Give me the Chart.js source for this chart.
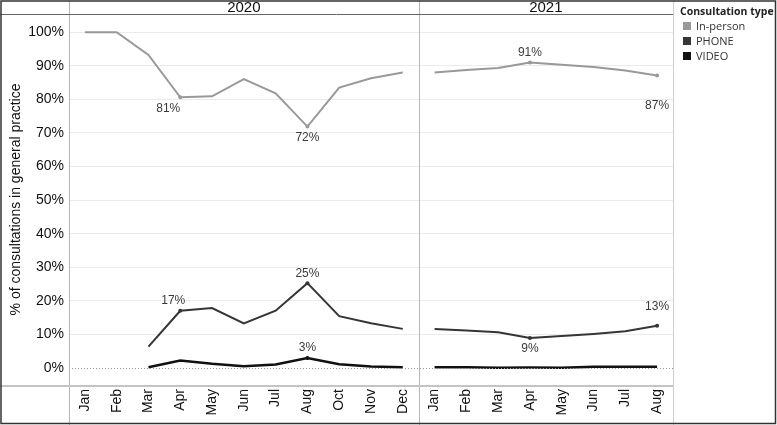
<!DOCTYPE html>
<html>
<head>
<meta charset="utf-8">
<script src="https://cdn.jsdelivr.net/npm/chart.js@4/dist/chart.umd.min.js"></script>
<style>
  html, body { margin: 0; padding: 0; background: #fff; }
  #wrap { position: relative; width: 777px; height: 425px; }
</style>
</head>
<body>
<div id="wrap"><canvas id="consult-chart" width="777" height="425"></canvas></div>
<script>
var years = ["2020", "2021"];
var months2020 = ["Jan", "Feb", "Mar", "Apr", "May", "Jun", "Jul", "Aug", "Oct", "Nov", "Dec"];
var months2021 = ["Jan", "Feb", "Mar", "Apr", "May", "Jun", "Jul", "Aug"];

var inPerson2020 = [100, 100, 93.2, 80.6, 80.9, 86.0, 81.8, 71.9, 83.5, 86.3, 88.0];
var phone2020 = [null, null, 6.4, 17.1, 17.9, 13.3, 17.1, 25.3, 15.5, 13.4, 11.7];
var video2020 = [null, null, 0.3, 2.3, 1.3, 0.6, 1.1, 3.0, 1.2, 0.5, 0.3];

var inPerson2021 = [88.0, 88.7, 89.3, 91.0, 90.3, 89.6, 88.6, 87.1];
var phone2021 = [11.7, 11.2, 10.7, 9.0, 9.6, 10.2, 11.0, 12.6];
var video2021 = [0.3, 0.3, 0.1, 0.2, 0.1, 0.4, 0.4, 0.4];

var yTicks = [0, 10, 20, 30, 40, 50, 60, 70, 80, 90, 100];

var seriesNames = ["In-person", "PHONE", "VIDEO"];
var seriesColors = ["#999999", "#353535", "#111111"];

// which points carry a value label (index inside the year)
var labelled2020 = [3, 7];
var labelled2021 = [3, 7];

var monthLabels = months2020.concat(months2021);
var n2020 = months2020.length;

function pad2020(arr) {
    var out = arr.slice();
    for (var i = 0; i < months2021.length; i++) out.push(null);
    return out;
}
function pad2021(arr) {
    var out = [];
    for (var i = 0; i < n2020; i++) out.push(null);
    return out.concat(arr);
}

// label placement offsets (px), per series per year
var labelOffsets = {
    "In-person": { "2020": [[-12, 11], [0, 11]], "2021": [[0, -10], [0, 30]] },
    "PHONE": { "2020": [[-7, -10], [0, -9]], "2021": [[0, 11], [0, -19]] },
    "VIDEO": { "2020": null, "2021": null }
};

function makeDataset(name, color, year, data, labelledIdx, width) {
    var offset = year === "2020" ? 0 : n2020;
    var marked = labelledIdx.map(function (i) { return i + offset; });
    return {
        label: name,
        year: year,
        data: data,
        borderColor: color,
        backgroundColor: color,
        borderWidth: width,
        tension: 0,
        spanGaps: false,
        pointRadius: function (ctx) { return marked.indexOf(ctx.dataIndex) >= 0 ? 2 : 0; },
        pointBorderWidth: 0,
        pointHoverRadius: 0
    };
}

var datasets = [
    makeDataset("In-person", seriesColors[0], "2020", pad2020(inPerson2020), labelled2020, 2),
    makeDataset("In-person", seriesColors[0], "2021", pad2021(inPerson2021), labelled2021, 2),
    makeDataset("PHONE", seriesColors[1], "2020", pad2020(phone2020), labelled2020, 2),
    makeDataset("PHONE", seriesColors[1], "2021", pad2021(phone2021), labelled2021, 2),
    makeDataset("VIDEO", seriesColors[2], "2020", pad2020(video2020), [7], 2.5),
    makeDataset("VIDEO", seriesColors[2], "2021", pad2021(video2021), [], 2.5)
];

var framePlugin = {
    id: "frame",
    afterDraw: function (chart) {
        var ctx = chart.ctx;
        var area = chart.chartArea;
        var x = chart.scales.x;
        var y = chart.scales.y;
        var W = chart.width, H = chart.height;
        var split = (x.getPixelForValue(n2020 - 1) + x.getPixelForValue(n2020)) / 2;

        ctx.save();
        // dotted zero line
        ctx.strokeStyle = "#9a9a9a";
        ctx.lineWidth = 1;
        ctx.setLineDash([1, 2]);
        ctx.beginPath();
        ctx.moveTo(area.left, Math.round(y.getPixelForValue(0)) + 0.5);
        ctx.lineTo(area.right, Math.round(y.getPixelForValue(0)) + 0.5);
        ctx.stroke();
        ctx.setLineDash([]);

        // panel lines
        ctx.strokeStyle = "#b5b5b5";
        ctx.lineWidth = 1;
        ctx.beginPath();
        ctx.moveTo(area.left + 0.5, 0); ctx.lineTo(area.left + 0.5, H);
        ctx.moveTo(Math.round(split) + 0.5, 0); ctx.lineTo(Math.round(split) + 0.5, H);
        ctx.stroke();
        ctx.strokeStyle = "#cfcfcf";
        ctx.beginPath();
        ctx.moveTo(area.right + 0.5, 0); ctx.lineTo(area.right + 0.5, H);
        ctx.stroke();

        // header line and axis line
        ctx.strokeStyle = "#666";
        ctx.lineWidth = 1;
        ctx.beginPath();
        ctx.moveTo(0, area.top + 0.5); ctx.lineTo(area.right, area.top + 0.5);
        ctx.stroke();
        ctx.strokeStyle = "#c4c4c4";
        ctx.lineWidth = 2;
        ctx.beginPath();
        ctx.moveTo(0, area.bottom + 1); ctx.lineTo(area.right, area.bottom + 1);
        ctx.stroke();

        // outer frame
        ctx.strokeStyle = "#333";
        ctx.lineWidth = 1.5;
        ctx.strokeRect(1, 1, W - 2.5, H - 2.5);

        // year headers
        ctx.fillStyle = "#111";
        ctx.font = "15px 'Liberation Sans', Arial, sans-serif";
        ctx.textAlign = "center";
        ctx.textBaseline = "middle";
        ctx.fillText(years[0], (area.left + split) / 2, 8);
        ctx.fillText(years[1], (split + area.right) / 2, 8);

        // value labels
        ctx.font = "12px 'Liberation Sans', Arial, sans-serif";
        ctx.fillStyle = "#3a3a3a";
        chart.data.datasets.forEach(function (ds, di) {
            var offs = labelOffsets[ds.label][ds.year];
            var idx = ds.year === "2020" ? labelled2020 : labelled2021;
            var base = ds.year === "2020" ? 0 : n2020;
            if (ds.label === "VIDEO" && ds.year === "2020") {
                offs = [[0, -10]];
                idx = [7];
            }
            if (!offs) return;
            var meta = chart.getDatasetMeta(di);
            idx.forEach(function (i, k) {
                var pt = meta.data[i + base];
                var v = ds.data[i + base];
                ctx.fillText(Math.round(v) + "%", pt.x + offs[k][0], pt.y + offs[k][1]);
            });
        });

        // legend
        var lx = area.right + 9;
        ctx.textAlign = "left";
        ctx.fillStyle = "#222";
        ctx.font = "bold 10.5px 'Open Sans', sans-serif";
        ctx.fillText("Consultation type", area.right + 7, 12);
        ctx.font = "11px 'Open Sans', sans-serif";
        seriesNames.forEach(function (name, i) {
            var cy = 26 + i * 15;
            ctx.fillStyle = seriesColors[i];
            ctx.fillRect(lx + 1, cy - 4, 8, 8);
            ctx.fillStyle = "#333";
            ctx.fillText(name, lx + 14, cy + 1);
        });
        ctx.restore();
    }
};

new Chart("consult-chart", {
    type: "line",
    data: { labels: monthLabels, datasets: datasets },
    plugins: [framePlugin],
    options: {
        responsive: false,
        animation: false,
        events: [],
        layout: { padding: { top: 14, right: 104, left: 0, bottom: 0 } },
        plugins: { legend: { display: false }, tooltip: { enabled: false } },
        scales: {
            x: {
                offset: true,
                grid: { display: false, drawTicks: false },
                border: { display: false },
                ticks: {
                    minRotation: 90,
                    maxRotation: 90,
                    autoSkip: false,
                    padding: 4,
                    color: "#111",
                    font: { family: "'Liberation Sans', Arial, sans-serif", size: 14 }
                },
                afterFit: function (s) { s.height = 40; }
            },
            y: {
                min: -5,
                max: 105.4,
                afterBuildTicks: function (s) {
                    s.ticks = yTicks.map(function (v) { return { value: v }; });
                },
                grid: {
                    drawTicks: false,
                    color: function (ctx) { return ctx.tick && ctx.tick.value === 0 ? "rgba(0,0,0,0)" : "#ebebeb"; }
                },
                border: { display: false },
                ticks: {
                    padding: 5,
                    color: "#111",
                    font: { family: "'Liberation Sans', Arial, sans-serif", size: 14 },
                    callback: function (v) { return v + "%"; }
                },
                title: {
                    display: true,
                    text: "% of consultations in general practice",
                    color: "#111",
                    padding: { top: 8, bottom: 0 },
                    font: { family: "'Liberation Sans', Arial, sans-serif", size: 14 }
                },
                afterFit: function (s) { s.width = 69; }
            }
        }
    }
});
</script>
</body>
</html>
